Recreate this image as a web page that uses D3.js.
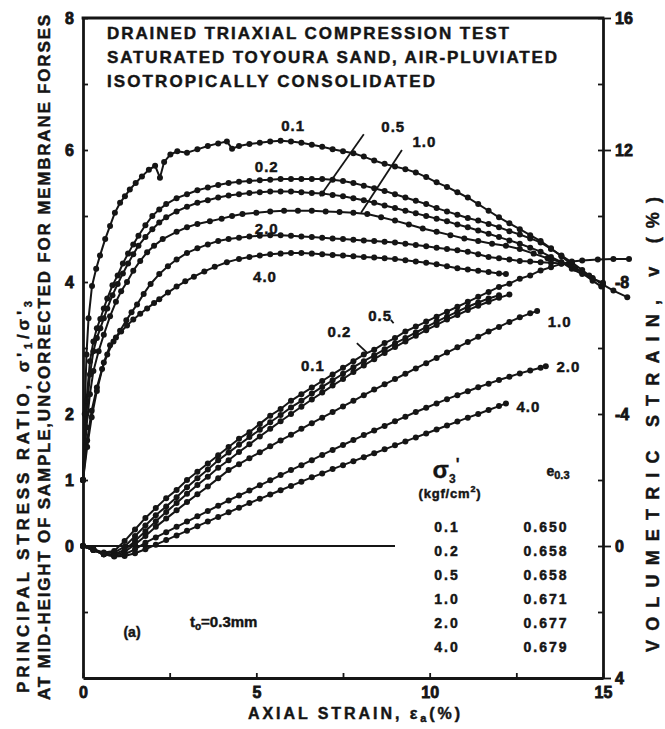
<!DOCTYPE html>
<html>
<head>
<meta charset="utf-8">
<script src="https://cdn.jsdelivr.net/npm/d3@7"></script>
<style>
  body { margin: 0; background: #fff; }
  svg { display: block; }
  text { font-family: "Liberation Sans", Arial, sans-serif; font-weight: bold; fill: #151515;
         stroke: #151515; stroke-width: 0.45px; }
  .tick text { stroke-width: 0.8px; }
</style>
</head>
<body>
<svg id="chart" width="665" height="729"></svg>
<script>
// ---- axis ticks ----
const strainTicks = [0, 2.5, 5, 7.5, 10, 12.5, 15];
const strainTickLabels = ["0", "", "5", "", "10", "", "15"];
const ratioTicks = [-1, 0, 1, 2, 3, 4, 5, 6, 7, 8];
const ratioTickLabels = ["", "0", "1", "2", "", "4", "", "6", "", "8"];
const volTicks = [-16, -14, -12, -10, -8, -6, -4, -2, 0, 2, 4];
const volTickLabels = ["16", "", "12", "", "-8", "", "-4", "", "0", "", "4"];

// ---- test conditions ----
const sigma3 = ["0.1", "0.2", "0.5", "1.0", "2.0", "4.0"];
const voidRatio = ["0.650", "0.658", "0.658", "0.671", "0.677", "0.679"];

// ---- principal stress ratio vs axial strain [strain %, ratio] ----
const ratio01 = [[0,1.0],[0.05,2.0],[0.1,2.9],[0.16,3.45],[0.26,3.94],[0.38,4.2],[0.49,4.4],[0.64,4.65],[0.78,4.85],[0.92,5.05],[1.07,5.2],[1.21,5.3],[1.35,5.4],[1.52,5.5],[1.7,5.6],[1.9,5.7],[2.08,5.76],[2.22,5.58],[2.34,5.82],[2.52,5.93],[2.72,5.98],[3.0,5.96],[3.3,6.01],[3.6,6.06],[3.9,6.1],[4.15,6.13],[4.3,6.02],[4.5,6.06],[4.8,6.09],[5.1,6.11],[5.4,6.13],[5.7,6.14],[6.0,6.13],[6.3,6.11],[6.6,6.08],[6.9,6.05],[7.2,6.01],[7.5,5.98],[7.8,5.95],[8.1,5.9],[8.4,5.84],[8.7,5.79],[9.0,5.75],[9.3,5.71],[9.6,5.66],[9.9,5.59],[10.2,5.51],[10.5,5.44],[10.8,5.36],[11.1,5.28],[11.4,5.18],[11.7,5.08],[12.0,4.98],[12.3,4.89],[12.6,4.8],[12.9,4.71],[13.2,4.62],[13.5,4.51],[13.8,4.39],[14.1,4.26],[14.4,4.14],[14.7,4.02],[14.95,3.93]];
const ratio02 = [[0,1.0],[0.1,2.2],[0.2,2.8],[0.3,3.1],[0.4,3.3],[0.5,3.44],[0.6,3.6],[0.7,3.75],[0.85,3.95],[1.0,4.1],[1.15,4.28],[1.3,4.43],[1.45,4.57],[1.6,4.7],[1.8,4.86],[2.0,5.0],[2.2,5.1],[2.4,5.18],[2.7,5.27],[3.0,5.33],[3.3,5.39],[3.6,5.43],[3.9,5.47],[4.2,5.5],[4.5,5.52],[4.8,5.53],[5.1,5.54],[5.4,5.55],[5.7,5.56],[6.0,5.56],[6.3,5.56],[6.6,5.56],[6.9,5.56],[7.2,5.55],[7.5,5.53],[7.8,5.5],[8.1,5.46],[8.4,5.42],[8.7,5.38],[9.0,5.33],[9.3,5.28],[9.6,5.23],[9.9,5.18],[10.2,5.12],[10.5,5.07],[10.8,5.02],[11.1,4.97],[11.4,4.93],[11.7,4.88],[12.0,4.83],[12.3,4.77],[12.6,4.72],[12.9,4.66],[13.2,4.6],[13.5,4.5],[13.8,4.4],[14.1,4.3],[14.4,4.18],[14.7,4.06],[15.0,3.96],[15.3,3.87],[15.7,3.77]];
const ratio05 = [[0,1.0],[0.1,2.0],[0.2,2.6],[0.3,2.95],[0.4,3.15],[0.5,3.3],[0.6,3.45],[0.7,3.6],[0.85,3.8],[1.0,3.97],[1.15,4.13],[1.3,4.28],[1.45,4.42],[1.6,4.55],[1.8,4.68],[2.0,4.8],[2.2,4.9],[2.4,4.98],[2.7,5.07],[3.0,5.14],[3.3,5.2],[3.6,5.24],[3.9,5.28],[4.2,5.31],[4.5,5.33],[4.8,5.35],[5.1,5.36],[5.4,5.37],[5.7,5.37],[6.0,5.37],[6.3,5.36],[6.6,5.35],[6.9,5.34],[7.2,5.32],[7.5,5.3],[7.8,5.27],[8.1,5.24],[8.4,5.2],[8.7,5.16],[9.0,5.12],[9.3,5.08],[9.6,5.04],[9.9,5.0],[10.2,4.96],[10.5,4.92],[10.8,4.87],[11.1,4.83],[11.4,4.78],[11.7,4.73],[12.0,4.68],[12.3,4.63],[12.6,4.58],[12.9,4.52],[13.2,4.46],[13.5,4.38],[13.8,4.3],[14.1,4.2],[14.4,4.12],[14.7,4.05],[15.0,3.99]];
const ratio10 = [[0,1.0],[0.1,1.8],[0.2,2.3],[0.3,2.65],[0.45,2.95],[0.6,3.2],[0.78,3.48],[0.95,3.7],[1.1,3.86],[1.27,4.0],[1.45,4.17],[1.65,4.32],[1.85,4.45],[2.05,4.55],[2.3,4.65],[2.7,4.76],[3.0,4.83],[3.3,4.88],[3.66,4.92],[4.0,4.96],[4.3,5.0],[4.6,5.03],[5.0,5.05],[5.4,5.07],[5.8,5.08],[6.2,5.08],[6.6,5.08],[7.0,5.07],[7.4,5.06],[7.8,5.05],[8.2,5.03],[8.6,4.98],[9.0,4.93],[9.4,4.87],[9.8,4.81],[10.2,4.76],[10.6,4.71],[11.0,4.66],[11.4,4.62],[11.8,4.58],[12.2,4.55],[12.6,4.5],[13.0,4.43],[13.4,4.36],[13.8,4.3],[14.2,4.2],[14.6,4.1]];
const ratio20 = [[0,1.0],[0.12,1.6],[0.25,2.05],[0.4,2.4],[0.55,2.68],[0.7,2.9],[0.88,3.1],[1.07,3.26],[1.25,3.42],[1.4,3.54],[1.56,3.66],[1.75,3.82],[1.95,3.97],[2.2,4.12],[2.45,4.24],[2.7,4.34],[3.0,4.44],[3.3,4.51],[3.6,4.57],[3.9,4.62],[4.2,4.65],[4.5,4.67],[4.8,4.69],[5.1,4.7],[5.4,4.71],[5.7,4.71],[6.0,4.7],[6.3,4.69],[6.6,4.68],[6.9,4.67],[7.2,4.66],[7.5,4.65],[7.8,4.64],[8.1,4.63],[8.4,4.62],[8.7,4.61],[9.0,4.6],[9.3,4.58],[9.6,4.56],[9.9,4.54],[10.2,4.52],[10.5,4.5],[10.8,4.48],[11.1,4.46],[11.4,4.42],[11.7,4.38],[12.0,4.36],[12.3,4.34],[12.6,4.32],[12.9,4.31],[13.2,4.3],[13.5,4.29],[13.8,4.28],[14.1,4.27]];
const ratio40 = [[0,1.0],[0.12,1.5],[0.25,1.95],[0.4,2.35],[0.6,2.78],[0.78,3.04],[0.95,3.16],[1.1,3.25],[1.27,3.34],[1.45,3.43],[1.65,3.52],[1.85,3.6],[2.05,3.68],[2.2,3.74],[2.45,3.84],[2.7,3.93],[2.95,4.01],[3.2,4.08],[3.5,4.16],[3.8,4.23],[4.15,4.3],[4.5,4.35],[4.8,4.38],[5.1,4.4],[5.4,4.42],[5.7,4.43],[6.0,4.44],[6.3,4.44],[6.6,4.43],[6.9,4.42],[7.2,4.41],[7.5,4.4],[7.8,4.39],[8.1,4.38],[8.4,4.37],[8.7,4.36],[9.0,4.35],[9.3,4.33],[9.6,4.31],[9.9,4.29],[10.2,4.27],[10.5,4.24],[10.8,4.21],[11.1,4.19],[11.4,4.17],[11.7,4.15],[12.0,4.13],[12.2,4.12]];

// ---- volumetric strain vs axial strain [strain %, volumetric %] (negative = dilation) ----
const vol01 = [[0,0],[0.3,0.1],[0.6,0.2],[0.9,0.15],[1.2,-0.15],[1.5,-0.5],[1.8,-0.85],[2.1,-1.15],[2.4,-1.45],[2.7,-1.7],[3.0,-2.0],[3.3,-2.25],[3.6,-2.5],[3.9,-2.75],[4.2,-3.0],[4.5,-3.25],[4.8,-3.45],[5.1,-3.7],[5.4,-3.95],[5.7,-4.15],[6.0,-4.4],[6.3,-4.6],[6.6,-4.8],[6.9,-5.0],[7.2,-5.2],[7.5,-5.4],[7.8,-5.6],[8.1,-5.8],[8.4,-5.95],[8.7,-6.15],[9.0,-6.3],[9.3,-6.5],[9.6,-6.65],[9.9,-6.8],[10.2,-6.95],[10.5,-7.1],[10.8,-7.25],[11.1,-7.4],[11.4,-7.55],[11.7,-7.7],[12.0,-7.85],[12.3,-7.95],[12.6,-8.1],[12.9,-8.2],[13.2,-8.35],[13.5,-8.45],[13.8,-8.55],[14.1,-8.62],[14.4,-8.65],[14.85,-8.68],[15.3,-8.7],[15.75,-8.7]];
const vol02 = [[0,0],[0.3,0.1],[0.6,0.22],[0.9,0.2],[1.2,0.02],[1.5,-0.3],[1.8,-0.62],[2.1,-0.93],[2.4,-1.2],[2.7,-1.48],[3.0,-1.78],[3.3,-2.05],[3.6,-2.32],[3.9,-2.6],[4.2,-2.83],[4.5,-3.07],[4.8,-3.3],[5.1,-3.52],[5.4,-3.75],[5.7,-3.97],[6.0,-4.2],[6.3,-4.4],[6.6,-4.62],[6.9,-4.82],[7.2,-5.02],[7.5,-5.22],[7.8,-5.42],[8.1,-5.6],[8.4,-5.78],[8.7,-5.96],[9.0,-6.14],[9.3,-6.3],[9.6,-6.47],[9.9,-6.63],[10.2,-6.8],[10.5,-6.95],[10.8,-7.1],[11.1,-7.25],[11.4,-7.38],[11.7,-7.5],[12.0,-7.6]];
const vol05 = [[0,0],[0.3,0.12],[0.6,0.25],[0.9,0.25],[1.2,0.12],[1.5,-0.15],[1.8,-0.45],[2.1,-0.75],[2.4,-1.03],[2.7,-1.3],[3.0,-1.58],[3.3,-1.85],[3.6,-2.1],[3.9,-2.37],[4.2,-2.6],[4.5,-2.85],[4.8,-3.08],[5.1,-3.32],[5.4,-3.55],[5.7,-3.78],[6.0,-4.0],[6.3,-4.22],[6.6,-4.44],[6.9,-4.65],[7.2,-4.86],[7.5,-5.06],[7.8,-5.27],[8.1,-5.47],[8.4,-5.66],[8.7,-5.85],[9.0,-6.03],[9.3,-6.2],[9.6,-6.37],[9.9,-6.54],[10.2,-6.7],[10.5,-6.86],[10.8,-7.0],[11.1,-7.15],[11.4,-7.28],[11.7,-7.4],[12.0,-7.52],[12.3,-7.62]];
const vol10 = [[0,0],[0.3,0.12],[0.6,0.25],[0.9,0.28],[1.2,0.18],[1.5,-0.05],[1.8,-0.3],[2.1,-0.58],[2.4,-0.83],[2.7,-1.08],[3.0,-1.33],[3.3,-1.57],[3.6,-1.8],[3.9,-2.05],[4.2,-2.3],[4.5,-2.48],[4.8,-2.66],[5.1,-2.84],[5.4,-3.02],[5.7,-3.2],[6.0,-3.37],[6.3,-3.55],[6.6,-3.72],[6.9,-3.89],[7.2,-4.06],[7.5,-4.23],[7.8,-4.4],[8.1,-4.57],[8.4,-4.74],[8.7,-4.9],[9.0,-5.06],[9.3,-5.22],[9.6,-5.38],[9.9,-5.54],[10.2,-5.7],[10.5,-5.86],[10.8,-6.02],[11.1,-6.18],[11.4,-6.34],[11.7,-6.5],[12.0,-6.64],[12.3,-6.79],[12.6,-6.93],[12.9,-7.05],[13.1,-7.12]];
const vol20 = [[0,0],[0.3,0.12],[0.6,0.25],[0.9,0.3],[1.2,0.25],[1.5,0.1],[1.8,-0.1],[2.1,-0.26],[2.4,-0.42],[2.7,-0.58],[3.0,-0.74],[3.3,-0.9],[3.6,-1.06],[3.9,-1.22],[4.2,-1.38],[4.5,-1.53],[4.8,-1.68],[5.1,-1.84],[5.4,-1.99],[5.7,-2.15],[6.0,-2.3],[6.3,-2.45],[6.6,-2.6],[6.9,-2.76],[7.2,-2.91],[7.5,-3.06],[7.8,-3.21],[8.1,-3.36],[8.4,-3.5],[8.7,-3.64],[9.0,-3.78],[9.3,-3.92],[9.6,-4.06],[9.9,-4.19],[10.2,-4.32],[10.5,-4.45],[10.8,-4.57],[11.1,-4.69],[11.4,-4.81],[11.7,-4.92],[12.0,-5.03],[12.3,-5.13],[12.6,-5.23],[12.9,-5.32],[13.2,-5.4],[13.35,-5.45]];
const vol40 = [[0,0],[0.3,0.12],[0.6,0.25],[0.9,0.32],[1.2,0.3],[1.5,0.22],[1.8,0.1],[2.1,-0.04],[2.4,-0.18],[2.7,-0.32],[3.0,-0.46],[3.3,-0.6],[3.6,-0.74],[3.9,-0.88],[4.2,-1.02],[4.5,-1.16],[4.8,-1.3],[5.1,-1.43],[5.4,-1.56],[5.7,-1.69],[6.0,-1.82],[6.3,-1.95],[6.6,-2.08],[6.9,-2.2],[7.2,-2.33],[7.5,-2.45],[7.8,-2.57],[8.1,-2.69],[8.4,-2.81],[8.7,-2.93],[9.0,-3.05],[9.3,-3.17],[9.6,-3.29],[9.9,-3.41],[10.2,-3.53],[10.5,-3.65],[10.8,-3.77],[11.1,-3.89],[11.4,-4.0],[11.7,-4.12],[12.0,-4.24],[12.2,-4.32]];

const ratioSeries = [ratio01, ratio02, ratio05, ratio10, ratio20, ratio40];
const volSeries = [vol01, vol02, vol05, vol10, vol20, vol40];

// ---- scales ----
const svg = d3.select("#chart");
const x = d3.scaleLinear().domain([0, 15]).range([83, 603]);
const yL = d3.scaleLinear().domain([-2, 8]).range([678, 18]);
const yR = d3.scaleLinear().domain([4, -16]).range([678, 18]);
const ink = "#151515";
const fontStack = '"Liberation Sans", Arial, sans-serif';

function styleAxis(g) {
  g.attr("font-family", fontStack).attr("font-size", 16).attr("font-weight", "bold");
  g.select(".domain").attr("stroke", ink).attr("stroke-width", 2.8);
  g.selectAll(".tick line").attr("stroke", ink).attr("stroke-width", 1.8);
  g.selectAll(".tick text").attr("fill", ink).style("font-weight", "900");
}

// top border
svg.append("line")
  .attr("x1", x(0) - 1.4).attr("x2", x(15) + 1.4).attr("y1", yL(8)).attr("y2", yL(8))
  .attr("stroke", ink).attr("stroke-width", 2.8);

// left axis: stress ratio
svg.append("g").attr("transform", `translate(${x(0)},0)`)
  .call(d3.axisLeft(yL).tickValues(ratioTicks).tickSizeInner(-5).tickSizeOuter(0)
        .tickPadding(9).tickFormat((d, i) => ratioTickLabels[i]))
  .call(styleAxis);

// right axis: volumetric strain
const gR = svg.append("g").attr("transform", `translate(${x(15)},0)`)
  .call(d3.axisRight(yR).tickValues(volTicks).tickSizeInner(-5).tickSizeOuter(0)
        .tickPadding(12).tickFormat((d, i) => volTickLabels[i]))
  .call(styleAxis);
gR.selectAll(".tick").filter((d, i) => volTickLabels[i] !== "" && volTickLabels[i][0] !== "-")
  .append("line").attr("x1", 0).attr("x2", 8).attr("stroke", ink).attr("stroke-width", 1.8);

// bottom axis: axial strain
svg.append("g").attr("transform", `translate(0,${yL(-2)})`)
  .call(d3.axisBottom(x).tickValues(strainTicks).tickSizeInner(-5).tickSizeOuter(0)
        .tickPadding(9).tickFormat((d, i) => strainTickLabels[i]))
  .call(styleAxis);

// zero line of volumetric strain
svg.append("line")
  .attr("x1", x(0)).attr("x2", x(9)).attr("y1", yR(0)).attr("y2", yR(0))
  .attr("stroke", ink).attr("stroke-width", 2);

// ---- curves with data markers ----
function drawFamily(seriesList, yScale, cls) {
  const line = d3.line().x(d => x(d[0])).y(d => yScale(d[1]));
  const g = svg.append("g").attr("class", cls);
  seriesList.forEach(s => {
    g.append("path").attr("d", line(s)).attr("fill", "none")
      .attr("stroke", ink).attr("stroke-width", 2);
    g.selectAll(null).data(s).enter().append("circle")
      .attr("cx", d => x(d[0])).attr("cy", d => yScale(d[1])).attr("r", 3)
      .attr("fill", ink);
  });
}
drawFamily(ratioSeries, yL, "ratio");
drawFamily(volSeries, yR, "vol");

// ---- curve labels ----
function label(txt, px, py) {
  svg.append("text").attr("x", px).attr("y", py).attr("text-anchor", "middle")
    .attr("font-size", 15).attr("letter-spacing", 1).text(txt);
}
function leader(x1, y1, x2, y2) {
  svg.append("line").attr("x1", x1).attr("y1", y1).attr("x2", x2).attr("y2", y2)
    .attr("stroke", ink).attr("stroke-width", 1.8);
}
// stress ratio curves
label(sigma3[0], x(6.06), yL(6.36) + 5);
label(sigma3[1], x(5.3), yL(5.74) + 5);
label(sigma3[2], x(8.95), yL(6.35) + 5);
label(sigma3[3], x(9.85), yL(6.12) + 5);
label(sigma3[4], x(5.3), yL(4.8) + 5);
label(sigma3[5], x(5.25), yL(4.07) + 5);
leader(x(8.1), yL(6.24), x(6.84), yL(5.3));
leader(x(9.2), yL(6.0), x(8.02), yL(5.05));
// volumetric curves
label(sigma3[0], x(6.63), yR(-5.45) + 5);
label(sigma3[1], x(7.4), yR(-6.5) + 5);
label(sigma3[2], x(8.57), yR(-6.97) + 5);
label(sigma3[3], x(13.75), yR(-6.8) + 5);
label(sigma3[4], x(14.0), yR(-5.42) + 5);
label(sigma3[5], x(12.85), yR(-4.2) + 5);
leader(x(7.9), yR(-6.15), x(8.2), yR(-5.85));
leader(x(8.88), yR(-6.85), x(8.96), yR(-6.75));

// ---- title block ----
const titleLines = ["DRAINED TRIAXIAL COMPRESSION TEST",
                    "SATURATED TOYOURA SAND, AIR-PLUVIATED",
                    "ISOTROPICALLY CONSOLIDATED"];
const titleWidths = [402, 450, 328];
titleLines.forEach((t, i) => {
  svg.append("text").attr("x", 107).attr("y", 39 + i * 24)
    .attr("font-size", 17).attr("textLength", titleWidths[i])
    .attr("lengthAdjust", "spacing").text(t);
});

// ---- legend table ----
const tbl = svg.append("g");
const sigHead = tbl.append("text").attr("x", 446).attr("y", 478).attr("text-anchor", "middle")
  .attr("font-size", 24).attr("font-weight", "normal").style("stroke-width", "0.3px");
sigHead.append("tspan").text("σ");
sigHead.append("tspan").attr("font-size", 12).attr("dy", 5).text("3");
sigHead.append("tspan").attr("font-size", 16).attr("dy", -13).text("'");
const unitHead = tbl.append("text").attr("x", 450).attr("y", 498).attr("text-anchor", "middle")
  .attr("font-size", 13).attr("letter-spacing", 0.8);
unitHead.append("tspan").text("(kgf/cm");
unitHead.append("tspan").attr("font-size", 9).attr("dy", -6).text("2");
unitHead.append("tspan").attr("dy", 6).text(")");
const eHead = tbl.append("text").attr("x", 558).attr("y", 476).attr("text-anchor", "middle")
  .attr("font-size", 14);
eHead.append("tspan").text("e");
eHead.append("tspan").attr("font-size", 11).attr("dy", 3).text("0.3");
sigma3.forEach((s, i) => {
  const yy = 532 + i * 24;
  tbl.append("text").attr("x", 447).attr("y", yy).attr("text-anchor", "middle")
    .attr("font-size", 14).attr("letter-spacing", 2).text(s);
  tbl.append("text").attr("x", 546).attr("y", yy).attr("text-anchor", "middle")
    .attr("font-size", 14).attr("letter-spacing", 2).text(voidRatio[i]);
});

// ---- panel notes ----
svg.append("text").attr("x", 132).attr("y", 637).attr("text-anchor", "middle")
  .attr("font-size", 14).text("(a)");
const tNote = svg.append("text").attr("x", 190).attr("y", 627).attr("font-size", 15);
tNote.append("tspan").text("t");
tNote.append("tspan").attr("font-size", 10).attr("dy", 3).text("o");
tNote.append("tspan").attr("dy", -3).text("=0.3mm");

// ---- axis titles ----
const xTitle = svg.append("text").attr("x", 248).attr("y", 719).attr("font-size", 16)
  .attr("textLength", 212).attr("lengthAdjust", "spacing");
xTitle.append("tspan").text("AXIAL STRAIN, ε");
xTitle.append("tspan").attr("font-size", 11).attr("dy", 3).text("a");
xTitle.append("tspan").attr("dy", -3).text("(%)");

const yTitle1 = svg.append("text").attr("transform", "translate(29,693) rotate(-90)")
  .attr("font-size", 17).attr("textLength", 392).attr("lengthAdjust", "spacing");
yTitle1.append("tspan").text("PRINCIPAL STRESS RATIO,  σ'");
yTitle1.append("tspan").attr("font-size", 11).attr("dy", 3).text("1");
yTitle1.append("tspan").attr("dy", -3).text("/σ'");
yTitle1.append("tspan").attr("font-size", 11).attr("dy", 3).text("3");

svg.append("text").attr("transform", "translate(50,700) rotate(-90)")
  .attr("font-size", 17).attr("textLength", 685).attr("lengthAdjust", "spacing")
  .text("AT MID-HEIGHT OF SAMPLE,UNCORRECTED FOR MEMBRANE FORSES");

svg.append("text").attr("transform", "translate(659,652) rotate(-90)")
  .attr("font-size", 18).attr("textLength", 455).attr("lengthAdjust", "spacing")
  .text("VOLUMETRIC STRAIN,  v (%)");
</script>
</body>
</html>
